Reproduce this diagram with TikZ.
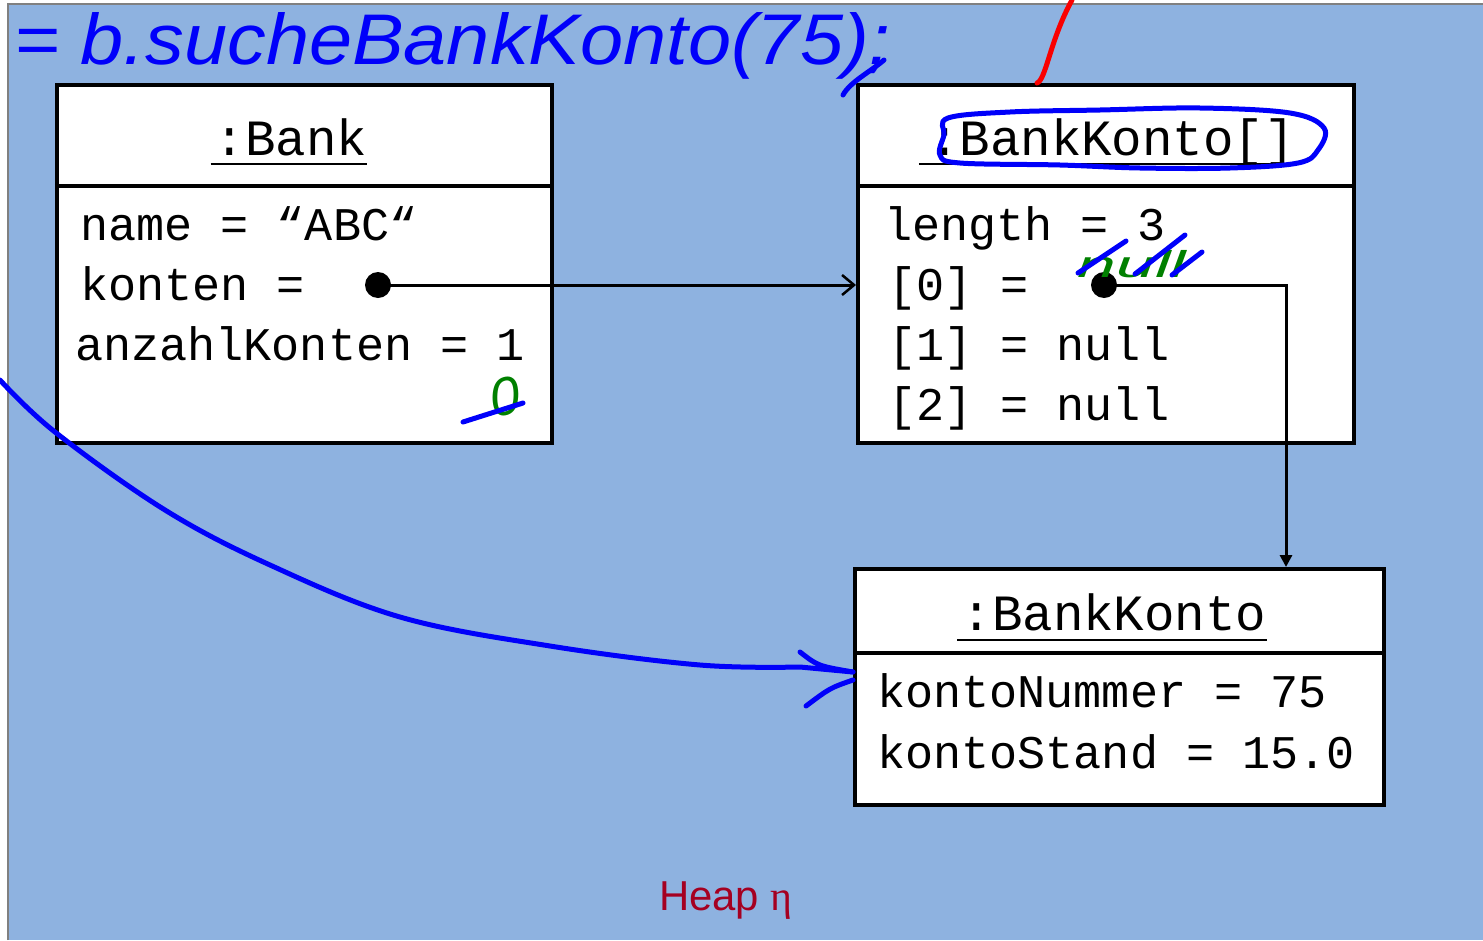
\documentclass[tikz,border=0pt]{standalone}
\usepackage{fontspec}
\setmainfont{Liberation Sans}
\setmonofont{Liberation Mono}
\newfontfamily\greekserif{Liberation Serif}
\usetikzlibrary{arrows.meta}
\definecolor{heapblue}{RGB}{142,178,224}
\definecolor{heapred}{RGB}{165,0,33}
\definecolor{inkblue}{RGB}{0,0,250}
\definecolor{inkgreen}{RGB}{0,128,0}
\definecolor{inkred}{RGB}{250,0,0}
\begin{document}
\begin{tikzpicture}[x=1bp,y=-1bp,
  objbox/.style={draw=black, fill=white, line width=4bp, inner sep=0, rectangle},
  divider/.style={line width=4bp},
  title/.style={font=\ttfamily\fontsize{51}{51}\selectfont, inner sep=0, anchor=base},
  attr/.style={font=\ttfamily\fontsize{47}{47}\selectfont, inner sep=0, anchor=base west},
  uline/.style={line width=2bp},
  refdot/.style={circle, fill=black, inner sep=0, minimum size=26bp},
  ref/.style={line width=3bp},
  ink/.style={line width=5bp, line cap=round, line join=round},
  note/.style={inner sep=0, font=\itshape}
]
\useasboundingbox (0,0) rectangle (1483,940);

% heap area
\fill[heapblue] (8,4) rectangle (1483,940);
\draw[gray, line width=1.5bp] (8,940) -- (8,4) -- (1483,4);

% object :Bank
\node[objbox, minimum width=495bp, minimum height=358bp] (bank) at (304.5,264) {};
\draw[divider] (bank.west |- 0,186) -- (bank.east |- 0,186);
\node[title] (bankT) at (291,155) {:Bank};
\draw[uline] ([xshift=-4bp,yshift=-9bp]bankT.base west) -- ([yshift=-9bp]bankT.base east);
\node[attr] (bankA1) at (80,240) {name = “ABC“};
\node[attr] (bankA2) at (80,300) {konten =};
\node[attr] (bankA3) at (75,360) {anzahlKonten = 1};
\node[refdot] (dotK) at (378,285) {};

% object :BankKonto[]
\node[objbox, minimum width=496bp, minimum height=358bp] (arr) at (1106,264) {};
\draw[divider] (arr.west |- 0,186) -- (arr.east |- 0,186);
\node[title] (arrT) at (1112,155) {:BankKonto[]};
\draw[uline] ([xshift=-10bp,yshift=-9bp]arrT.base west) -- ([yshift=-9bp]arrT.base east);
\node[attr] (arrA1) at (884,240) {length = 3};
\node[attr] (arrA2) at (888,300) {[0] =};
\node[attr] (arrA3) at (888,360) {[1] = null};
\node[attr] (arrA4) at (888,420) {[2] = null};
\node[refdot] (dot0) at (1104,285) {};

% object :BankKonto
\node[objbox, minimum width=529bp, minimum height=236bp] (konto) at (1119.5,687) {};
\draw[divider] (konto.west |- 0,653) -- (konto.east |- 0,653);
\node[title] (kontoT) at (1114,630) {:BankKonto};
\draw[uline] ([xshift=-4bp,yshift=-10bp]kontoT.base west) -- ([yshift=-10bp]kontoT.base east);
\node[attr] (kontoA1) at (877,707) {kontoNummer = 75};
\node[attr] (kontoA2) at (877,768) {kontoStand = 15.0};

% references
\draw[ref, -{Straight Barb[length=12bp, width=20bp, line width=2.5bp]}] (dotK.center) -- (dotK.center -| arr.west);
\coordinate (bend) at (1286,285);
\draw[ref, -{Triangle[length=12bp, width=12bp]}] (dot0.center) -- (bend) -- (bend |- konto.north);

% heap label
\node[inner sep=0, anchor=base, text=heapred, font=\fontsize{42}{42}\selectfont] (heap) at (726,910) {Heap {\greekserif η}};

% handwritten annotations
\node[note, text=inkblue, anchor=base west, font=\itshape\fontsize{72}{72}\selectfont] (call) at (14,64) {\scalebox{1.08}[1]{= b.sucheBankKonto(75);}};
\draw[ink, inkblue] (884,60) .. controls (870,72) and (850,82) .. (843,95);

\draw[ink, inkblue] plot[smooth cycle, tension=0.6] coordinates {
  (948,118) (1010,112) (1100,110) (1200,108) (1290,113) (1324,128) (1318,150)
  (1298,163) (1230,168) (1140,168) (1060,165) (960,163) (940,155) (944,135)};

\draw[ink, inkred] (1037,83) .. controls (1046,80) and (1050,40) .. (1072,0);

\node[note, text=inkgreen, font=\itshape\fontsize{50}{50}\selectfont] (nullnote) at (1132,264) {\scalebox{1.4}[0.75]{null}};
\draw[ink, inkblue] (1078,273) -- (1126,241);
\draw[ink, inkblue] (1135,274) -- (1185,235);
\draw[ink, inkblue] (1172,275) -- (1202,252);

\node[note, text=inkgreen, font=\itshape\fontsize{54}{54}\selectfont, rotate=10] (zeronote) at (505,397) {0};
\draw[ink, inkblue] (463,422) -- (523,403);

\coordinate (hit) at (konto.west |- 0,672);
\draw[ink, inkblue] plot[smooth, tension=0.6] coordinates {
  (0,380) (55,432) (165,510) (270,565) (400,617) (550,646) (700,665) (800,667)} -- (hit);
\draw[ink, inkblue] (800,652) .. controls (818,666) .. (hit);
\draw[ink, inkblue] (806,706) .. controls (830,688) .. ([yshift=-8bp]hit);
\end{tikzpicture}
\end{document}
